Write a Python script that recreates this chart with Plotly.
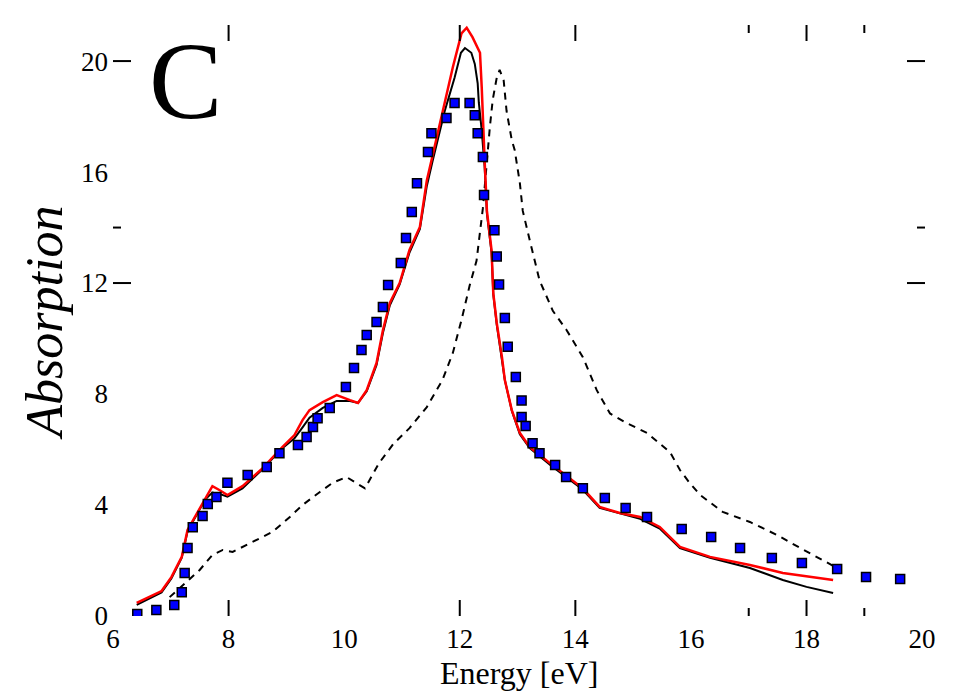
import plotly.graph_objects as go

# Experimental absorption (blue squares)
exp_x = [6.42, 6.75, 7.06, 7.19, 7.24, 7.29, 7.38, 7.55, 7.64, 7.79, 7.98, 8.33, 8.66, 8.88,
         9.20, 9.35, 9.46, 9.54, 9.75, 10.03, 10.17, 10.30, 10.39, 10.56, 10.67, 10.76, 10.98,
         11.07, 11.17, 11.26, 11.45, 11.51, 11.77, 11.91, 12.17, 12.26, 12.31, 12.40, 12.42,
         12.60, 12.64, 12.68, 12.78, 12.83, 12.97, 13.07, 13.07, 13.14, 13.26, 13.38, 13.65,
         13.84, 14.13, 14.51, 14.87, 15.24, 15.84, 16.35, 16.85, 17.40, 17.92, 18.53, 19.03, 19.62]
exp_y = [0.07, 0.22, 0.40, 0.86, 1.55, 2.45, 3.20, 3.60, 4.04, 4.29, 4.80, 5.08, 5.37, 5.87,
         6.16, 6.45, 6.81, 7.13, 7.50, 8.25, 8.94, 9.59, 10.13, 10.60, 11.14, 11.93, 12.72,
         13.62, 14.56, 15.60, 16.72, 17.40, 17.95, 18.49, 18.49, 18.05, 17.40, 16.54, 15.17,
         13.90, 12.96, 11.95, 10.74, 9.70, 8.61, 7.77, 7.17, 6.85, 6.23, 5.87, 5.44,
         5.01, 4.60, 4.25, 3.89, 3.57, 3.14, 2.85, 2.45, 2.09, 1.91, 1.69, 1.41, 1.33]

# Red solid curve
red_x = [6.41, 6.84, 7.01, 7.19, 7.29, 7.50, 7.62, 7.72, 7.84, 7.98, 8.24, 8.59, 8.93, 9.14,
         9.28, 9.40, 9.63, 9.87, 10.10, 10.24, 10.39, 10.56, 10.67, 10.79, 10.96, 11.13, 11.31,
         11.43, 11.53, 11.74, 11.88, 12.03, 12.12, 12.22, 12.35, 12.38, 12.40, 12.43, 12.47,
         12.55, 12.58, 12.64, 12.73, 12.78, 12.90, 13.04, 13.21, 13.56, 14.13, 14.42, 14.77,
         15.12, 15.46, 15.81, 16.33, 17.02, 17.59, 18.46]
red_y = [0.47, 0.90, 1.40, 2.13, 3.10, 3.89, 4.36, 4.68, 4.54, 4.36, 4.68, 5.33, 6.09, 6.52,
         7.06, 7.42, 7.71, 7.96, 7.78, 7.68, 8.14, 9.12, 10.30, 11.28, 12.00, 13.19, 14.02,
         15.70, 16.60, 18.49, 19.78, 21.00, 21.20, 20.86, 20.30, 19.06, 17.87, 16.43, 14.60,
         13.19, 11.64, 10.56, 9.33, 8.50, 7.42, 6.60, 6.09, 5.51, 4.60, 3.93, 3.71,
         3.57, 3.21, 2.49, 2.13, 1.84, 1.55, 1.30]

# Black solid curve
blk_x = [6.41, 6.84, 7.01, 7.19, 7.29, 7.50, 7.62, 7.72, 7.84, 7.98, 8.24, 8.59, 8.93, 9.14,
         9.28, 9.40, 9.63, 9.87, 10.10, 10.24, 10.39, 10.56, 10.67, 10.79, 10.96, 11.13, 11.31,
         11.43, 11.53, 11.74, 11.91, 12.02, 12.09, 12.20, 12.26, 12.31, 12.33, 12.38, 12.43,
         12.47, 12.55, 12.58, 12.64, 12.73, 12.78, 12.90, 13.04, 13.21, 13.56, 14.13, 14.42,
         14.77, 15.12, 15.46, 15.81, 16.33, 17.02, 17.59, 18.00, 18.46]
blk_y = [0.40, 0.85, 1.35, 2.10, 3.05, 3.85, 4.25, 4.45, 4.40, 4.30, 4.60, 5.30, 6.05, 6.40,
         6.80, 7.15, 7.50, 7.75, 7.75, 7.68, 8.10, 9.05, 10.20, 11.20, 11.95, 13.10, 13.95,
         15.50, 16.40, 18.20, 19.40, 20.30, 20.47, 20.30, 19.90, 19.20, 18.50, 17.50, 16.20,
         14.50, 13.10, 11.60, 10.50, 9.30, 8.50, 7.40, 6.55, 6.05, 5.45, 4.55, 3.90,
         3.70, 3.50, 3.15, 2.45, 2.10, 1.73, 1.30, 1.05, 0.83]

# Black dashed curve
dsh_x = [6.98, 7.32, 7.50, 7.72, 7.90, 8.07, 8.48, 8.76, 9.06, 9.28, 9.58, 9.80, 10.04, 10.20,
         10.36, 10.60, 10.85, 11.13, 11.43, 11.70, 11.88, 12.03, 12.17, 12.29, 12.35, 12.40,
         12.52, 12.57, 12.64, 12.69, 12.76, 12.81, 12.90, 12.95, 13.04, 13.09, 13.21, 13.38,
         13.61, 13.85, 14.13, 14.37, 14.60, 14.89, 15.24, 15.64, 15.81, 15.98, 16.16, 16.55,
         17.02, 17.49, 17.89, 18.11, 18.53]
dsh_y = [0.68, 1.30, 1.66, 2.20, 2.38, 2.31, 2.74, 3.03, 3.57, 4.00, 4.47, 4.80, 5.01, 4.80,
         4.60, 5.50, 6.20, 6.77, 7.53, 8.50, 9.48, 10.67, 11.90, 12.80, 13.80, 14.70,
         17.60, 18.60, 19.40, 19.68, 19.30, 18.20, 17.15, 16.80, 15.60, 14.60, 13.55, 12.10,
         11.00, 10.30, 9.33, 8.14, 7.30, 6.95, 6.60, 5.90, 5.26, 4.79, 4.36, 3.75,
         3.39, 2.92, 2.45, 2.20, 1.73]

x_labels = [6, 8, 10, 12, 14, 16, 18, 20]
y_labels = [0, 4, 8, 12, 16, 20]
x_major_marks = [8, 12, 14, 18]
x_minor_marks = [17, 19]
y_major_marks = [12, 20]
y_minor_marks = [14]

FONT = "Liberation Serif"

fig = go.Figure()
fig.add_trace(go.Scatter(x=dsh_x, y=dsh_y, mode="lines",
                         line=dict(color="black", width=2, dash="7px,6px"), showlegend=False))
fig.add_trace(go.Scatter(x=blk_x, y=blk_y, mode="lines",
                         line=dict(color="black", width=2), showlegend=False))
fig.add_trace(go.Scatter(x=red_x, y=red_y, mode="lines",
                         line=dict(color="#ff0000", width=2.5), showlegend=False))
fig.add_trace(go.Scatter(x=exp_x, y=exp_y, mode="markers",
                         marker=dict(symbol="square", size=9, color="#0000ff",
                                     line=dict(color="black", width=1.5)), showlegend=False))

shapes = []
for v in x_major_marks:
    shapes.append(dict(type="line", xref="x", yref="paper", ysizemode="pixel", yanchor=0,
                       x0=v, x1=v, y0=0, y1=16, line=dict(color="black", width=2)))
    shapes.append(dict(type="line", xref="x", yref="paper", ysizemode="pixel", yanchor=1,
                       x0=v, x1=v, y0=0, y1=-16, line=dict(color="black", width=2)))
for v in x_minor_marks:
    shapes.append(dict(type="line", xref="x", yref="paper", ysizemode="pixel", yanchor=0,
                       x0=v, x1=v, y0=0, y1=8, line=dict(color="black", width=2)))
    shapes.append(dict(type="line", xref="x", yref="paper", ysizemode="pixel", yanchor=1,
                       x0=v, x1=v, y0=0, y1=-8, line=dict(color="black", width=2)))
for v in y_major_marks:
    shapes.append(dict(type="line", xref="paper", yref="y", xsizemode="pixel", xanchor=0,
                       x0=0, x1=18, y0=v, y1=v, line=dict(color="black", width=2)))
    shapes.append(dict(type="line", xref="paper", yref="y", xsizemode="pixel", xanchor=1,
                       x0=0, x1=-18, y0=v, y1=v, line=dict(color="black", width=2)))
for v in y_minor_marks:
    shapes.append(dict(type="line", xref="paper", yref="y", xsizemode="pixel", xanchor=0,
                       x0=0, x1=8, y0=v, y1=v, line=dict(color="black", width=2)))
    shapes.append(dict(type="line", xref="paper", yref="y", xsizemode="pixel", xanchor=1,
                       x0=0, x1=-8, y0=v, y1=v, line=dict(color="black", width=2)))

fig.update_layout(
    width=954, height=691,
    margin=dict(l=113, r=29, t=25, b=75),
    paper_bgcolor="white", plot_bgcolor="white",
    font=dict(family=FONT, color="black"),
    shapes=shapes,
    xaxis=dict(range=[6, 20.05], tickvals=x_labels, ticktext=[str(v) for v in x_labels],
               ticks="", showgrid=False, zeroline=False, showline=False,
               ticklabelstandoff=4,
               tickfont=dict(family=FONT, size=27, color="black")),
    yaxis=dict(range=[0, 21.3], tickvals=y_labels, ticktext=[str(v) for v in y_labels],
               ticks="", showgrid=False, zeroline=False, showline=False,
               ticklabelstandoff=4,
               tickfont=dict(family=FONT, size=27, color="black")),
    annotations=[
        dict(text="C", xref="paper", yref="paper", x=0.089, y=0.905, showarrow=False,
             xanchor="center", yanchor="middle", font=dict(family=FONT, size=110, color="black")),
        dict(text="<i>Absorption</i>", xref="paper", yref="paper", x=-0.084, y=0.496,
             showarrow=False, textangle=-90, xanchor="center", yanchor="middle",
             font=dict(family=FONT, size=52, color="black")),
        dict(text="Energy [eV]", xref="paper", yref="paper", x=0.5, y=-0.062,
             showarrow=False, xanchor="center", yanchor="top",
             font=dict(family=FONT, size=32, color="black")),
    ],
)

fig.write_html("out.html")
